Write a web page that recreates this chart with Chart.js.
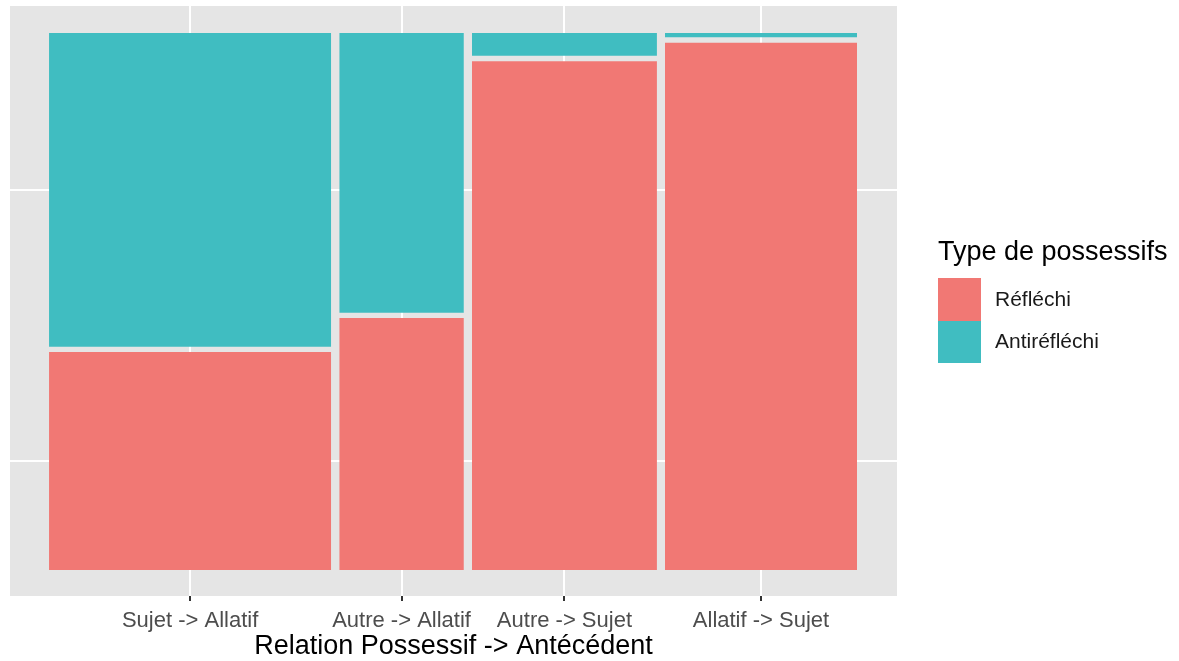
<!DOCTYPE html>
<html>
<head>
<meta charset="utf-8">
<script src="https://cdn.jsdelivr.net/npm/chart.js@4.4.1/dist/chart.umd.min.js"></script>
<style>
  body { margin: 0; background: #ffffff; }
</style>
</head>
<body>
<canvas id="mosaic" width="1179" height="661"></canvas>
<script>
// data
var categories = ['Sujet -> Allatif', 'Autre -> Allatif', 'Autre -> Sujet', 'Allatif -> Sujet'];
var columnShare = [0.360, 0.159, 0.236, 0.245];   // share of all possessives per relation
var reflechiShare = [0.410, 0.474, 0.957, 0.992]; // share of "Réfléchi" inside each relation
var typeLabels = ['Réfléchi', 'Antiréfléchi'];
var typeColors = ['rgb(241, 120, 116)', 'rgb(64, 189, 193)'];

var gap = 0.01; // ggmosaic offset between tiles

// build the tiles: one filled line per tile, filled down to its lower edge
var tiles = [];
var centers = [];
var x0 = 0;
for (var i = 0; i < categories.length; i++) {
    var w = columnShare[i] * (1 - gap * (categories.length - 1));
    var x1 = x0 + w;
    var redTop = reflechiShare[i] * (1 - gap);
    centers.push((x0 + x1) / 2);
    tiles.push({
        label: typeLabels[0],
        data: [{x: x0, y: redTop}, {x: x1, y: redTop}],
        fill: {value: 0},
        backgroundColor: typeColors[0]
    });
    tiles.push({
        label: typeLabels[1],
        data: [{x: x0, y: 1}, {x: x1, y: 1}],
        fill: {value: redTop + gap},
        backgroundColor: typeColors[1]
    });
    x0 = x1 + gap;
}

// y breaks sit in the middle of the first column's tiles
var firstTop = reflechiShare[0] * (1 - gap);
var yBreaks = [firstTop / 2, (firstTop + gap + 1) / 2];

var panelBackground = {
    id: 'panelBackground',
    beforeDraw: function (chart) {
        var a = chart.chartArea;
        var ctx = chart.ctx;
        ctx.save();
        ctx.fillStyle = '#E5E5E5';
        ctx.fillRect(a.left, a.top, a.right - a.left, a.bottom - a.top);
        ctx.restore();
    }
};

var sideLegend = {
    id: 'sideLegend',
    afterDraw: function (chart) {
        var ctx = chart.ctx;
        ctx.save();
        ctx.textAlign = 'left';
        ctx.textBaseline = 'middle';
        ctx.fillStyle = '#000000';
        ctx.font = '27px "Liberation Sans", Arial, sans-serif';
        ctx.fillText('Type de possessifs', 938, 253);
        var keyTop = [278, 321];
        var labelY = [300, 342];
        ctx.font = '21px "Liberation Sans", Arial, sans-serif';
        for (var k = 0; k < typeLabels.length; k++) {
            ctx.fillStyle = typeColors[k];
            ctx.fillRect(938, keyTop[k], 43, 43 - k);
            ctx.fillStyle = '#1A1A1A';
            ctx.fillText(typeLabels[k], 995, labelY[k]);
        }
        ctx.restore();
    }
};

Chart.defaults.font.family = '"Liberation Sans", Arial, sans-serif';

var ctxMosaic = document.getElementById('mosaic').getContext('2d');

var mosaic = new Chart(ctxMosaic, {
    type: 'line',
    data: { datasets: tiles },
    options: {
        responsive: false,
        animation: false,
        events: [],
        layout: { padding: { left: 10, right: 282, top: 6, bottom: 0 } },
        elements: {
            line: { borderWidth: 0, tension: 0 },
            point: { radius: 0 }
        },
        plugins: {
            legend: { display: false },
            tooltip: { enabled: false }
        },
        scales: {
            x: {
                type: 'linear',
                min: -0.0483,
                max: 1.0495,
                border: { display: false },
                grid: {
                    color: '#FFFFFF',
                    lineWidth: 2,
                    tickColor: '#333333',
                    tickLength: 5,
                    tickWidth: 2
                },
                afterBuildTicks: function (scale) {
                    scale.ticks = centers.map(function (c) { return {value: c}; });
                },
                afterFit: function (scale) {
                    scale.height = 65;
                },
                ticks: {
                    autoSkip: false,
                    maxRotation: 0,
                    padding: 7,
                    color: '#4D4D4D',
                    font: { size: 22 },
                    callback: function (value, index) { return categories[index]; }
                },
                title: {
                    display: true,
                    text: 'Relation Possessif -> Antécédent',
                    color: '#000000',
                    font: { size: 27, lineHeight: 1 },
                    padding: { top: 0, bottom: 1 }
                }
            },
            y: {
                type: 'linear',
                min: -0.0484,
                max: 1.0503,
                border: { display: false },
                grid: { color: '#FFFFFF', lineWidth: 2, drawTicks: false },
                afterBuildTicks: function (scale) {
                    scale.ticks = yBreaks.map(function (v) { return {value: v}; });
                },
                afterFit: function (scale) {
                    scale.width = 0;
                },
                ticks: { display: false }
            }
        }
    },
    plugins: [panelBackground, sideLegend]
});
</script>
</body>
</html>
